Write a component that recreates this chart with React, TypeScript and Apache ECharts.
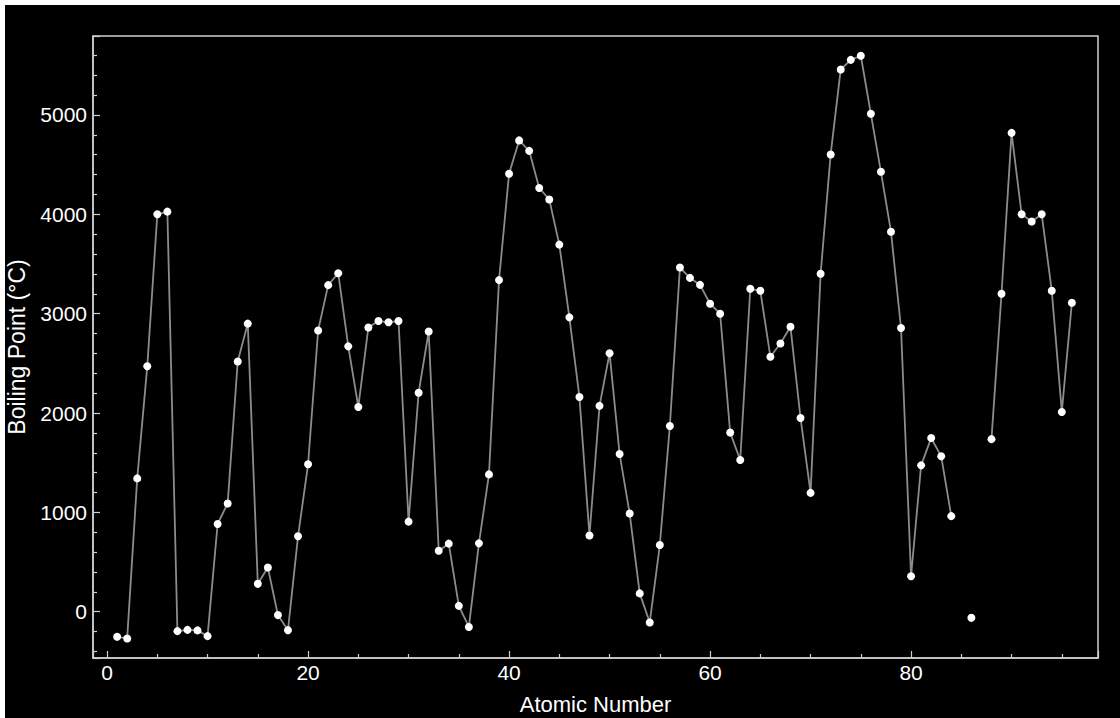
import React, { useEffect, useRef } from "react";
import * as echarts from "echarts";

const atomicNumbers = [
  1, 2, 3, 4, 5, 6, 7, 8, 9, 10, 11, 12, 13, 14, 15, 16, 17, 18, 19, 20,
  21, 22, 23, 24, 25, 26, 27, 28, 29, 30, 31, 32, 33, 34, 35, 36, 37, 38, 39, 40,
  41, 42, 43, 44, 45, 46, 47, 48, 49, 50, 51, 52, 53, 54, 55, 56, 57, 58, 59, 60,
  61, 62, 63, 64, 65, 66, 67, 68, 69, 70, 71, 72, 73, 74, 75, 76, 77, 78, 79, 80,
  81, 82, 83, 84, 85, 86, 87, 88, 89, 90, 91, 92, 93, 94, 95, 96,
];

const boilingPoints: (number | null)[] = [
  -252.87, -268.93, 1342, 2470, 4000, 4027, -195.79, -182.9, -188.12, -246.08,
  883, 1090, 2519, 2900, 280.5, 444.6, -34.04, -185.8, 759, 1484,
  2830, 3287, 3407, 2671, 2061, 2861, 2927, 2913, 2927, 907,
  2204, 2820, 614, 685, 59, -153.22, 688, 1382, 3338, 4409,
  4744, 4639, 4265, 4150, 3695, 2963, 2162, 767, 2072, 2602,
  1587, 988, 184.3, -108.12, 671, 1870, 3464, 3360, 3290, 3100,
  3000, 1803, 1527, 3250, 3230, 2567, 2700, 2868, 1950, 1196,
  3402, 4603, 5458, 5555, 5596, 5012, 4428, 3825, 2856, 356.73,
  1473, 1749, 1564, 962, null, -61.7, null, 1737, 3200, 4820,
  4000, 3927, 4000, 3230, 2011, 3110,
];

const xTitle = "Atomic Number";
const yTitle = "Boiling Point (°C)";

export default function App() {
  const ref = useRef<HTMLDivElement>(null);

  useEffect(() => {
    if (!ref.current) return;
    const chart = echarts.init(ref.current, null, { renderer: "svg" });
    const data = atomicNumbers.map((n, i) => [n, boilingPoints[i] === null ? "-" : boilingPoints[i]]);
    const frame = "#cfcfcf";
    const font = "Liberation Sans, Arial, Helvetica, sans-serif";
    chart.setOption({
      animation: false,
      backgroundColor: "#000000",
      grid: {
        left: 88,
        top: 31,
        right: 22,
        bottom: 60,
        show: true,
        borderColor: frame,
        borderWidth: 1.5,
        backgroundColor: "transparent",
        containLabel: false,
        outerBoundsMode: "none",
      },
      xAxis: {
        type: "value",
        min: -1.4,
        max: 98.6,
        splitNumber: 5,
        name: xTitle,
        nameLocation: "middle",
        nameGap: 35,
        nameTextStyle: { color: "#ffffff", fontSize: 22, fontFamily: font },
        axisLine: { show: true, onZero: false, lineStyle: { color: frame, width: 1.5 } },
        axisTick: { show: true, inside: true, length: 7, lineStyle: { color: frame, width: 1.2 } },
        minorTick: { show: true, splitNumber: 4, length: 4, lineStyle: { color: frame, width: 1.2 } },
        splitLine: { show: false },
        axisLabel: {
          color: "#ffffff",
          fontSize: 21,
          fontFamily: font,
          margin: 4,
          formatter: (v: number) => (Math.abs(v % 20) < 1e-9 ? String(v) : ""),
        },
      },
      yAxis: {
        type: "value",
        min: -466,
        max: 5795,
        splitNumber: 6,
        name: yTitle,
        nameLocation: "middle",
        nameGap: 65,
        nameTextStyle: { color: "#ffffff", fontSize: 23, fontFamily: font },
        axisLine: { show: true, onZero: false, lineStyle: { color: frame, width: 1.5 } },
        axisTick: { show: true, inside: true, length: 7, lineStyle: { color: frame, width: 1.2 } },
        minorTick: { show: true, splitNumber: 5, length: 4, lineStyle: { color: frame, width: 1.2 } },
        splitLine: { show: false },
        axisLabel: {
          color: "#ffffff",
          fontSize: 21,
          fontFamily: font,
          margin: 6,
          formatter: (v: number) => (Math.abs(v % 1000) < 1e-9 ? String(v) : ""),
        },
      },
      series: [
        {
          type: "line",
          data,
          connectNulls: false,
          showSymbol: true,
          showAllSymbol: true,
          symbol: "circle",
          symbolSize: 8,
          lineStyle: { color: "#8c8c8c", width: 1.8 },
          itemStyle: { color: "#ffffff", borderWidth: 0 },
          z: 3,
        },
      ],
    });
    return () => chart.dispose();
  }, []);

  return (
    <div style={{ position: "fixed", left: 0, top: 0, width: 1120, height: 718, background: "#ffffff" }}>
      <div ref={ref} style={{ position: "absolute", left: 5, top: 5, width: 1115, height: 713 }} />
    </div>
  );
}
